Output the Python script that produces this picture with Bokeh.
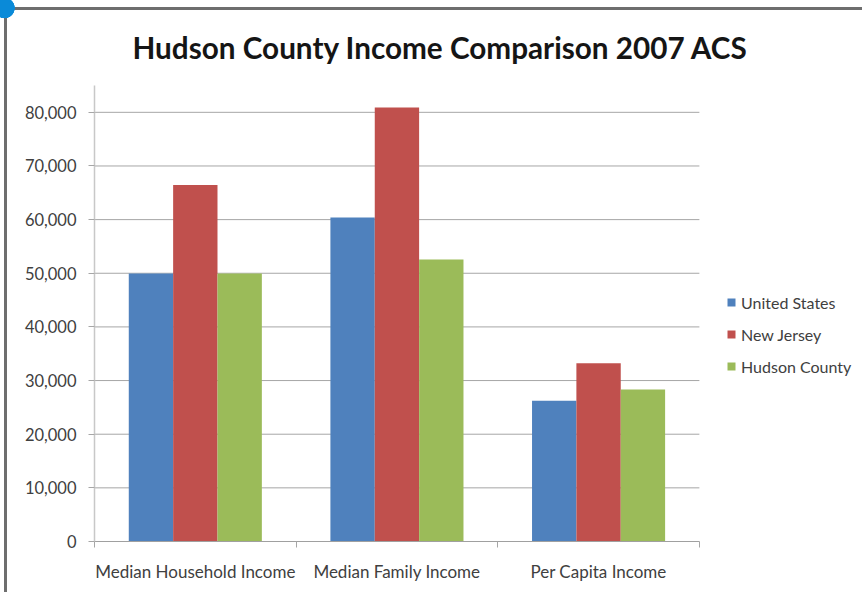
from bokeh.plotting import figure
from bokeh.models import (ColumnDataSource, FixedTicker, NumeralTickFormatter, Legend, LegendItem,
                          Title)
from bokeh.embed import file_html
from bokeh.resources import INLINE

# ---- data ----
categories = ["Median Household Income", "Median Family Income", "Per Capita Income"]
series_names = ["United States", "New Jersey", "Hudson County"]
united_states = [49950, 60380, 26220]
new_jersey = [66470, 80880, 33230]
hudson_county = [49950, 52550, 28330]
y_ticks = [0, 10000, 20000, 30000, 40000, 50000, 60000, 70000, 80000]

colors = ["#4F81BD", "#C0504D", "#9BBB59"]
FONT = "Lato"
W, H = 862, 592
n = len(categories)

# page decoration (outer chart border and selection handle) as CSS background
bg = ("radial-gradient(circle 10.5px at 4.5px 8px, #0a8ad8 10px, rgba(10,138,216,0) 10.6px), "
      "linear-gradient(#6e6e6e, #6e6e6e) 4px 7px / 100% 3px no-repeat, "
      "linear-gradient(#6e6e6e, #6e6e6e) 4px 7px / 3px 100% no-repeat, white")

p = figure(width=W, height=H, output_backend="svg", toolbar_location=None,
           x_range=(0, 3.809), y_range=(0, 85000),
           min_border_left=94, min_border_right=0, min_border_top=85, min_border_bottom=51,
           background_fill_color="white", border_fill_color=None,
           styles={"position": "absolute", "left": "0px", "top": "0px", "background": bg})
p.outline_line_color = None

# horizontal gridlines limited to the category area
grid_src = ColumnDataSource(dict(y=y_ticks[1:]))
p.segment(x0=0, x1=n, y0="y", y1="y", source=grid_src, line_color="#a6a6a6", line_width=1)

bar_w = 0.22
series = [united_states, new_jersey, hudson_county]
items = []
for j, (name, vals, col) in enumerate(zip(series_names, series, colors)):
    xs = [i + 0.5 + (j - 1) * bar_w for i in range(n)]
    src = ColumnDataSource(dict(x=xs, top=vals))
    r = p.vbar(x="x", top="top", width=bar_w, bottom=0, source=src,
               fill_color=col, line_color=None)
    items.append(LegendItem(label=name, renderers=[r]))

# y axis
p.yaxis.ticker = FixedTicker(ticks=y_ticks)
p.yaxis.formatter = NumeralTickFormatter(format="0,0")
p.yaxis.axis_line_color = "#c8c8c8"
p.yaxis.axis_line_width = 1.5
p.yaxis.major_tick_line_color = "#a6a6a6"
p.yaxis.major_tick_out = 6
p.yaxis.major_tick_in = 0
p.yaxis.minor_tick_line_color = None
p.yaxis.major_label_text_font = FONT
p.yaxis.major_label_text_font_size = "16.5px"
p.yaxis.major_label_text_color = "#404040"
p.yaxis.major_label_standoff = 12

# x axis: labels at centres, ticks at category boundaries
p.xaxis.bounds = (0, n)
p.xaxis.ticker = FixedTicker(ticks=[i + 0.5 for i in range(n)],
                             minor_ticks=list(range(n + 1)))
p.xaxis.major_label_overrides = {i + 0.5: c for i, c in enumerate(categories)}
p.xaxis.major_tick_line_color = None
p.xaxis.minor_tick_line_color = "#a6a6a6"
p.xaxis.minor_tick_out = 6
p.xaxis.minor_tick_in = 0
p.xaxis.axis_line_color = "#a0a0a0"
p.xaxis.major_label_text_font = FONT
p.xaxis.major_label_text_font_size = "17px"
p.xaxis.major_label_text_color = "#404040"
p.xaxis.major_label_standoff = 13

p.xgrid.grid_line_color = None
p.ygrid.grid_line_color = None

# title
t = Title(text="Hudson County Income Comparison 2007 ACS", align="left",
          text_font=FONT, text_font_size="29.7px", text_font_style="bold",
          text_color="#151515", offset=38, standoff=42)
p.add_layout(t, "above")

# legend
legend = Legend(items=items, location=(632, 165), orientation="vertical",
                glyph_width=10, glyph_height=10, label_height=20, spacing=12,
                label_standoff=5, padding=0, margin=0,
                label_text_font=FONT, label_text_font_size="16px", label_text_color="#404040",
                border_line_color=None, background_fill_alpha=0)
p.add_layout(legend, "center")

open("out.html", "w").write(file_html(p, INLINE))
